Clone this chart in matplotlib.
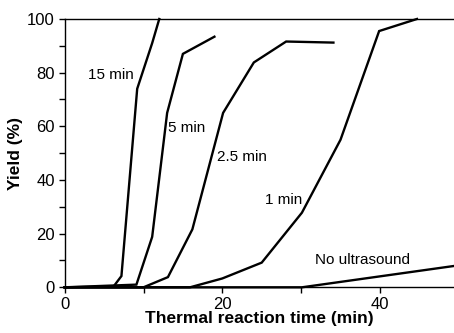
import matplotlib
matplotlib.use("Agg")
import matplotlib.pyplot as plt
from matplotlib.ticker import MultipleLocator

plt.rcParams['font.family'] = ['Liberation Sans', 'DejaVu Sans']

# Data (thermal reaction time in min, yield in %)
x_15 = [0, 6.2, 7.2, 9.2, 11.1, 12.0]
y_15 = [0, 0.3, 4.2, 74, 91, 100]

x_5 = [0, 9.1, 11.1, 13.0, 15.0, 19.0]
y_5 = [0, 1.0, 18.8, 65, 87, 93.4]

x_25 = [0, 10.0, 13.1, 16.2, 20.1, 24.0, 28.1, 34.1]
y_25 = [0, 0, 3.8, 21.6, 65, 83.8, 91.6, 91.2]

x_1 = [0, 15.9, 20.0, 25.0, 30.1, 35.0, 39.9, 44.7]
y_1 = [0, 0, 3.3, 9.2, 27.8, 55, 95.5, 100]

x_no = [0, 30.1, 50]
y_no = [0, 0, 8.2]

labels = ["15 min", "5 min", "2.5 min", "1 min", "No ultrasound"]
label_x = [3.0, 13.1, 19.3, 25.4, 31.8]
label_y = [79, 59.5, 48.7, 32.7, 10.2]

fig = plt.figure(figsize=(4.54, 3.33), dpi=100)
ax = fig.add_axes([0.1425, 0.1372, 0.8575, 0.8058])

for xs, ys in [(x_15, y_15), (x_5, y_5), (x_25, y_25), (x_1, y_1), (x_no, y_no)]:
    ax.plot(xs, ys, color='black', lw=1.7, solid_joinstyle='miter', clip_on=False)

for t, lx, ly in zip(labels, label_x, label_y):
    ax.text(lx, ly, t, fontsize=11, ha='left', va='center')

ax.set_xlim(0, 49.4)
ax.set_ylim(0, 100)
ax.xaxis.set_major_locator(MultipleLocator(20))
ax.xaxis.set_minor_locator(MultipleLocator(10))
ax.yaxis.set_major_locator(MultipleLocator(20))
ax.yaxis.set_minor_locator(MultipleLocator(10))
ax.tick_params(which='both', direction='out', length=4, width=1, labelsize=12, pad=3)
ax.tick_params(which='minor', length=4)
ax.spines['right'].set_visible(False)
for s in ['left', 'bottom', 'top']:
    ax.spines[s].set_linewidth(1.0)

ax.set_xlabel("Thermal reaction time (min)", fontsize=12.5, fontweight='bold', labelpad=-1)
ax.set_ylabel("Yield (%)", fontsize=12.5, fontweight='bold', labelpad=3)

fig.savefig("out.png", dpi=100)
